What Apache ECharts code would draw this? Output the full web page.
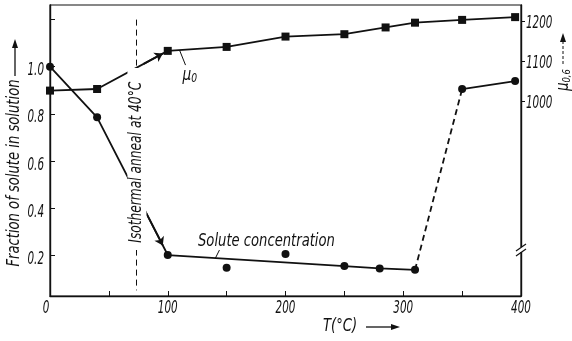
<!DOCTYPE html>
<html>
<head>
<meta charset="utf-8">
<script src="https://cdn.jsdelivr.net/npm/echarts@6/dist/echarts.min.js"></script>
<style>
  html, body { margin: 0; padding: 0; background: #fff; }
  #chart { width: 572px; height: 341px; }
</style>
</head>
<body>
<div id="chart"></div>
<script>
const FONT = '"DejaVu Sans Condensed", "DejaVu Sans", sans-serif';
const INK = '#111';
const NUM_SCALE = 0.64;   // narrow digits for tick labels
const WORD_SCALE = 0.9;   // narrow lettering for captions

// Annealing temperature (°C) for the solute measurements
const concTemps = [0, 40, 100, 150, 200, 250, 280, 310, 350, 395];
// Fraction of solute still in solution
const concValues = [1.0, 0.785, 0.2, 0.146, 0.204, 0.153, 0.143, 0.137, 0.905, 0.939];
// scattered points that the drawn trend does not pass through
const concOffTrend = [150, 200];
// the steep re-solution step is drawn dashed between these temperatures
const riseStart = 310;
const riseEnd = 350;

// Annealing temperature (°C) for the μ0 measurements
const muTemps = [0, 40, 100, 150, 200, 250, 285, 310, 350, 395];
// μ0 values (right axis)
const muValues = [1026, 1030, 1126, 1136, 1162, 1168, 1185, 1197, 1204, 1211];

// axis tick labels
const tempLabels = [0, 100, 200, 300, 400];
const fractionLabels = [0.2, 0.4, 0.6, 0.8, 1.0];
const fractionTicks = [0.2, 0.4, 0.6, 0.8, 1.0, 1.2];
const muLabels = [1000, 1100, 1200];

// temperature where the isothermal-anneal marker line is drawn
const annealLineT = 73;

const X_MIN = 0, X_MAX = 400;
const F_MIN = 0.026, F_MAX = 1.262;
const MU_MIN = 509, MU_MAX = 1241.5;

const pairs = (xs, ys) => xs.map((x, i) => [x, ys[i]]);
const concPts = pairs(concTemps, concValues);
const trendA = concPts.filter(p => p[0] <= riseStart && !concOffTrend.includes(p[0]));
const trendRise = concPts.filter(p => p[0] >= riseStart && p[0] <= riseEnd);
const trendB = concPts.filter(p => p[0] >= riseEnd);
const muPts = pairs(muTemps, muValues);

// point a fraction f of the way from p to q
const lerp = (p, q, f) => [p[0] + (q[0] - p[0]) * f, p[1] + (q[1] - p[1]) * f];

const chart = echarts.init(document.getElementById('chart'), null, { renderer: 'canvas' });

const arrowLine = (a, b) => [
  { coord: a, symbol: 'none' },
  { coord: b, symbol: 'arrow', symbolSize: 8 }
];

const axisLineStyle = { show: true, lineStyle: { color: INK, width: 1.4 } };

chart.setOption({
  animation: false,
  backgroundColor: '#fff',
  grid: {
    left: 50, right: 51, top: 5, bottom: 45,
    show: true, borderColor: INK, borderWidth: 1.2, backgroundColor: 'transparent'
  },
  xAxis: {
    type: 'value', min: X_MIN, max: X_MAX, interval: 50,
    axisLine: axisLineStyle,
    axisTick: { show: true, inside: true, length: 5, lineStyle: { color: INK } },
    axisLabel: { show: false },
    splitLine: { show: false }
  },
  yAxis: [
    {
      type: 'value', position: 'left', min: F_MIN, max: F_MAX,
      axisLine: axisLineStyle,
      axisTick: { show: true, inside: true, length: 5, customValues: fractionTicks, lineStyle: { color: INK } },
      axisLabel: { show: false },
      splitLine: { show: false }
    },
    {
      type: 'value', position: 'right', min: MU_MIN, max: MU_MAX,
      axisLine: axisLineStyle,
      axisTick: { show: true, inside: false, length: 4, customValues: muLabels, lineStyle: { color: INK } },
      axisLabel: { show: false },
      splitLine: { show: false }
    }
  ],
  series: [
    {
      // anneal marker line, sits beneath the rotated caption
      type: 'line', data: [], z: 1, silent: true,
      markLine: {
        silent: true, symbol: 'none', label: { show: false },
        lineStyle: { color: INK, width: 1, type: [6, 4] },
        data: [[{ coord: [annealLineT, 1.2] }, { coord: [annealLineT, 0.05] }]]
      }
    },
    {
      name: 'trend', type: 'line', data: trendA, showSymbol: false, z: 2,
      lineStyle: { color: INK, width: 1.8 }
    },
    {
      name: 'rise', type: 'line', data: trendRise, showSymbol: false, z: 2,
      lineStyle: { color: INK, width: 1.8, type: [6, 4] }
    },
    {
      name: 'tail', type: 'line', data: trendB, showSymbol: false, z: 2,
      lineStyle: { color: INK, width: 1.8 }
    },
    {
      name: 'Solute concentration', type: 'scatter', data: concPts, z: 3,
      symbol: 'circle', symbolSize: 8, itemStyle: { color: INK, opacity: 1 }
    },
    {
      name: 'μ0', type: 'line', yAxisIndex: 1, data: muPts, z: 3,
      symbol: 'rect', symbolSize: 8, showSymbol: true,
      itemStyle: { color: INK, opacity: 1 }, lineStyle: { color: INK, width: 1.8 }
    },
    {
      // arrows from the caption towards the 100 °C points
      type: 'line', data: [], z: 200, silent: true,
      markLine: {
        silent: true, label: { show: false },
        lineStyle: { color: INK, width: 1.8, type: 'solid' },
        data: [arrowLine(lerp(concPts[1], concPts[2], 0.66), lerp(concPts[1], concPts[2], 0.93))]
      }
    },
    {
      type: 'line', yAxisIndex: 1, data: [], z: 200, silent: true,
      markLine: {
        silent: true, label: { show: false },
        lineStyle: { color: INK, width: 1.8, type: 'solid' },
        data: [arrowLine(lerp(muPts[1], muPts[2], 0.66), lerp(muPts[1], muPts[2], 0.93))]
      }
    }
  ]
});

// pixel positions through the chart's own scales
const px = (seriesIndex, p) => chart.convertToPixel({ seriesIndex }, p);
const xPix = v => px(1, [v, F_MIN])[0];
const fPix = v => px(1, [X_MIN, v])[1];
const muPix = v => px(5, [X_MIN, v])[1];
const axisBottom = fPix(F_MIN);
const leftX = xPix(X_MIN);
const rightX = xPix(X_MAX);

const text = (x, y, str, o = {}) => ({
  type: 'text', z: o.z || 110, x, y,
  rotation: o.rot || 0, scaleX: o.sx || WORD_SCALE,
  style: Object.assign({
    text: str, fontFamily: FONT, fontStyle: 'italic', fontSize: o.size || 16, fill: INK,
    align: o.align || 'left', verticalAlign: 'middle'
  }, o.style || {})
});

const arrowHead = (tip, dir) => {
  const [dx, dy] = dir, L = 9, W = 3;
  const bx = tip[0] - dx * L, by = tip[1] - dy * L;
  return {
    type: 'polygon', z: 120,
    shape: { points: [tip, [bx - dy * W, by + dx * W], [bx + dy * W, by - dx * W]] },
    style: { fill: INK }
  };
};
const seg = (x1, y1, x2, y2, w, dash) => ({
  type: 'line', z: 110, shape: { x1, y1, x2, y2 },
  style: { stroke: INK, lineWidth: w || 1, lineDash: dash || null }
});

const anneal = px(1, [annealLineT, 0.6]);
const muLead = px(5, lerp(muPts[2], muPts[3], 0.2));
const concLead = px(1, lerp(concPts[2], concPts[5], 0.27));
const breakY = axisBottom - 46;

const graphics = [];

// tick labels
tempLabels.forEach(v => graphics.push(
  text(xPix(v) + (v === X_MIN ? -4 : 0), axisBottom + 12, String(v), { sx: NUM_SCALE, size: 18, align: 'center' })
));
fractionLabels.forEach(v => graphics.push(
  text(leftX - 6, fPix(v) + 4, v.toFixed(1), { sx: NUM_SCALE, size: 18, align: 'right' })
));
muLabels.forEach(v => graphics.push(
  text(rightX + 5, muPix(v) + 2, String(v), { sx: NUM_SCALE, size: 18, align: 'left' })
));

graphics.push(
  // rotated caption over the anneal marker line
  text(anneal[0] + 1, 159, 'Isothermal anneal at 40°C', {
    z: 100, rot: Math.PI / 2, sx: 0.8, size: 17, align: 'center',
    style: { backgroundColor: '#fff', padding: [1, 17, 1, 9] }
  }),
  // μ0 label with leader
  seg(muLead[0], muLead[1], muLead[0] + 6, muLead[1] + 15),
  {
    type: 'text', z: 110, x: muLead[0] + 3, y: muLead[1] + 15, scaleX: 0.85,
    style: {
      text: '{m|μ}{s|0}', fill: INK,
      rich: {
        m: { fontFamily: FONT, fontStyle: 'italic', fontSize: 18, fill: INK },
        s: { fontFamily: FONT, fontStyle: 'italic', fontSize: 12, fill: INK, padding: [8, 0, 0, 0] }
      }
    }
  },
  // solute label with leader
  seg(concLead[0], concLead[1], concLead[0] + 4, concLead[1] - 8),
  text(198, concLead[1] - 16, 'Solute concentration', { size: 17, sx: 0.86 }),
  // axis break on the right axis
  { type: 'rect', z: 110, shape: { x: rightX - 2, y: breakY - 3, width: 4, height: 5 }, style: { fill: '#fff' } },
  seg(rightX - 5, breakY + 1, rightX + 5, breakY - 6, 1.2),
  seg(rightX - 5, breakY + 6, rightX + 5, breakY - 1, 1.2),
  // left axis title
  text(15, 173, 'Fraction of solute in solution', { rot: Math.PI / 2, size: 17, sx: 0.86, align: 'center' }),
  seg(15, 76, 15, 46, 1.3),
  arrowHead([15, 39], [0, -1]),
  // bottom axis title
  text(323, 327, 'T(°C)', { size: 17, sx: 0.86 }),
  seg(366, 327, 393, 327, 1.3),
  arrowHead([400, 327], [1, 0]),
  // right axis title
  {
    type: 'text', z: 110, x: 564, y: 80, rotation: Math.PI / 2, scaleX: 0.85,
    style: {
      text: '{m|μ}{s|0,6}', fill: INK, align: 'center', verticalAlign: 'middle',
      rich: {
        m: { fontFamily: FONT, fontStyle: 'italic', fontSize: 17, fill: INK },
        s: { fontFamily: FONT, fontStyle: 'italic', fontSize: 11, fill: INK, padding: [6, 0, 0, 0] }
      }
    }
  },
  seg(563, 64, 563, 40, 1, [3, 2]),
  arrowHead([563, 33], [0, -1])
);

chart.setOption({ graphic: graphics });
</script>
</body>
</html>
